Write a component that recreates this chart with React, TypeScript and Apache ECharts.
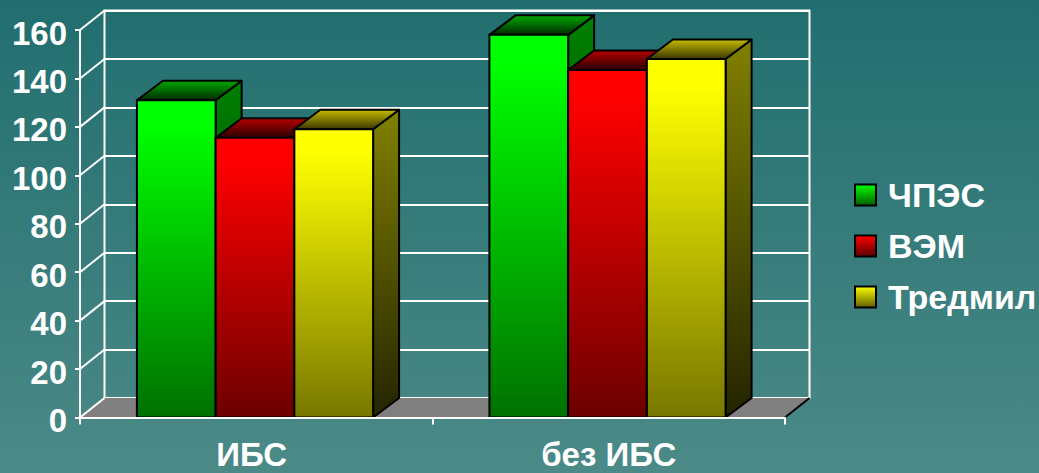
import React, { useEffect, useRef } from "react";
import * as echarts from "echarts";

const categories = ["ИБС", "без ИБС"];
const seriesNames = ["ЧПЭС", "ВЭМ", "Тредмил"];
const chpesValues = [131, 158];
const vemValues = [115.5, 143.5];
const tredmilValues = [119, 148];
const yTicks = [0, 20, 40, 60, 80, 100, 120, 140, 160];

const frontColors = [
  ["#00ff00", "#007000"],
  ["#ff0000", "#6c0000"],
  ["#ffff00", "#777700"],
];
const legendColors = [
  ["#00ff00", "#005c00"],
  ["#ff0000", "#5c0000"],
  ["#ffff00", "#5f5f00"],
];
const sideColors = [
  ["#008000", "#002c00"],
  ["#800000", "#2c0000"],
  ["#808000", "#242400"],
];
const topColors = [
  ["#00a800", "#002a00"],
  ["#b40000", "#2a0000"],
  ["#c4bc00", "#3a3600"],
];

const FONT = '"Liberation Sans", Arial, sans-serif';
const DEPTH_X = 24.5;
const DEPTH_Y = 19.5;
const BAR_DEPTH_X = 26;
const GROUP_SHARE = 0.67;

const vGrad = (c: string[], hold = 0) => ({
  type: "linear",
  x: 0,
  y: 0,
  x2: 0,
  y2: 1,
  colorStops: [
    { offset: 0, color: c[0] },
    { offset: hold, color: c[0] },
    { offset: 1, color: c[1] },
  ],
});

// One 3D column: front face, top face and right side, placed through the axes.
function barRenderer(seriesIdx: number) {
  return (_params: any, api: any) => {
    const cat = api.value(0);
    const val = api.value(1);
    const top = api.coord([cat, val]);
    const base = api.coord([cat, 0]);
    const catW = api.size([1, 0])[0];
    const w = (catW * GROUP_SHARE) / 3;
    const x0 = top[0] - 1.25 - (w * 3) / 2 + seriesIdx * w;
    const x1 = x0 + w;
    const yT = top[1];
    const yB = base[1];
    const dx = BAR_DEPTH_X;
    const dy = DEPTH_Y;
    const edge = { stroke: "#000", lineWidth: 2, lineJoin: "round" };
    return {
      type: "group",
      children: [
        {
          type: "polygon",
          shape: { points: [[x1, yT], [x1 + dx, yT - dy], [x1 + dx, yB - dy], [x1, yB]] },
          style: { fill: vGrad(sideColors[seriesIdx]), ...edge },
        },
        {
          type: "polygon",
          shape: { points: [[x0, yT], [x0 + dx, yT - dy], [x1 + dx, yT - dy], [x1, yT]] },
          style: { fill: vGrad(topColors[seriesIdx]), ...edge },
        },
        {
          type: "rect",
          shape: { x: x0, y: yT, width: w, height: yB - yT },
          style: { fill: vGrad(frontColors[seriesIdx], 0.08), ...edge },
        },
      ],
    };
  };
}

export default function App() {
  const ref = useRef<HTMLDivElement>(null);

  useEffect(() => {
    const chart = echarts.init(ref.current!, undefined, { renderer: "svg" });
    const barValues = [chpesValues, vemValues, tredmilValues];

    chart.setOption({
      animation: false,
      backgroundColor: {
        type: "linear",
        x: 0,
        y: 0,
        x2: 0,
        y2: 1,
        colorStops: [
          { offset: 0, color: "#216e6f" },
          { offset: 1, color: "#4b8a87" },
        ],
      },
      legend: {
        orient: "vertical",
        left: 854,
        top: 178,
        padding: 0,
        itemWidth: 21,
        itemHeight: 21,
        itemGap: 17,
        icon: "rect",
        selectedMode: false,
        textStyle: {
          color: "#fff",
          fontFamily: FONT,
          fontWeight: "bold",
          fontSize: 34,
          lineHeight: 31,
          padding: [0, 0, 0, 7],
        },
        data: seriesNames.map((name, i) => ({
          name,
          itemStyle: { color: vGrad(legendColors[i]), borderColor: "#000", borderWidth: 2 },
        })),
      },
      grid: [
        { left: 80, top: 30, width: 705, height: 387.5 },
        {
          left: 80 + DEPTH_X,
          top: 30 - DEPTH_Y,
          width: 705,
          height: 387.5,
          show: true,
          borderColor: "#fff",
          borderWidth: 2,
        },
      ],
      xAxis: [
        {
          type: "category",
          gridIndex: 0,
          data: categories,
          z: 6,
          axisLine: { show: true, lineStyle: { color: "#fff", width: 2 } },
          axisTick: { show: true, length: 7, lineStyle: { color: "#fff", width: 2 } },
          axisLabel: {
            color: "#fff",
            fontFamily: FONT,
            fontWeight: "bold",
            fontSize: 33,
            lineHeight: 26,
            margin: 24,
            formatter: (v: string) => (v === categories[0] ? `{shifted|${v}}` : v),
            rich: {
              shifted: {
                color: "#fff",
                fontFamily: FONT,
                fontWeight: "bold",
                fontSize: 33,
                lineHeight: 26,
                padding: [0, 9, 0, 0],
              },
            },
          },
        },
        { type: "category", gridIndex: 1, data: categories, show: false },
      ],
      yAxis: [
        {
          type: "value",
          gridIndex: 0,
          min: 0,
          max: 160,
          interval: 20,
          z: 6,
          splitLine: { show: false },
          axisLine: { show: true, lineStyle: { color: "#fff", width: 2 } },
          axisTick: { show: true, length: 5, lineStyle: { color: "#fff", width: 2 } },
          axisLabel: {
            color: "#fff",
            margin: 13,
            formatter: "{tick|{value}}",
            rich: {
              tick: {
                color: "#fff",
                fontFamily: FONT,
                fontWeight: "bold",
                fontSize: 33,
                padding: [6, 0, 0, 0],
              },
            },
          },
        },
        {
          type: "value",
          gridIndex: 1,
          min: 0,
          max: 160,
          interval: 20,
          axisLabel: { show: false },
          axisTick: { show: false },
          axisLine: { show: false },
          splitLine: { show: true, lineStyle: { color: "#fff", width: 2 } },
        },
      ],
      series: [
        // Chart floor between the front axis and the back wall.
        {
          type: "custom",
          xAxisIndex: 0,
          yAxisIndex: 0,
          silent: true,
          z: 1,
          clip: false,
          data: [[0, 0]],
          encode: { x: 0, y: 1 },
          renderItem: (_p: any, api: any) => {
            const c = api.coord([0, 0]);
            const catW = api.size([1, 0])[0];
            const a = [c[0] - catW / 2, c[1]];
            const b = [c[0] + (catW * 3) / 2, c[1]];
            return {
              type: "group",
              children: [
                {
                  type: "polygon",
                  shape: { points: [a, [a[0] + DEPTH_X, a[1] - DEPTH_Y], [b[0] + DEPTH_X, b[1] - DEPTH_Y], b] },
                  style: { fill: "#808080" },
                },
                {
                  type: "line",
                  shape: { x1: b[0], y1: b[1], x2: b[0] + DEPTH_X, y2: b[1] - DEPTH_Y },
                  style: { stroke: "#000", lineWidth: 2 },
                },
              ],
            };
          },
        },
        // Side-wall lines joining the front axis ticks to the back wall.
        {
          type: "custom",
          xAxisIndex: 0,
          yAxisIndex: 0,
          silent: true,
          z: 1,
          clip: false,
          data: yTicks.map((t) => [0, t]),
          encode: { x: 0, y: 1 },
          renderItem: (_p: any, api: any) => {
            const c = api.coord([0, api.value(1)]);
            const x = c[0] - api.size([1, 0])[0] / 2;
            return {
              type: "line",
              shape: { x1: x, y1: c[1], x2: x + DEPTH_X, y2: c[1] - DEPTH_Y },
              style: { stroke: "#fff", lineWidth: 2 },
            };
          },
        },
        ...seriesNames.map((name, i) => ({
          type: "custom",
          name,
          xAxisIndex: 0,
          yAxisIndex: 0,
          z: 3,
          clip: false,
          encode: { x: 0, y: 1 },
          itemStyle: { color: frontColors[i][0] },
          data: barValues[i].map((v, c) => [c, v]),
          renderItem: barRenderer(i),
        })),
      ],
    });
    return () => chart.dispose();
  }, []);

  return <div ref={ref} style={{ position: "fixed", left: 0, top: 0, width: 1039, height: 473 }} />;
}
